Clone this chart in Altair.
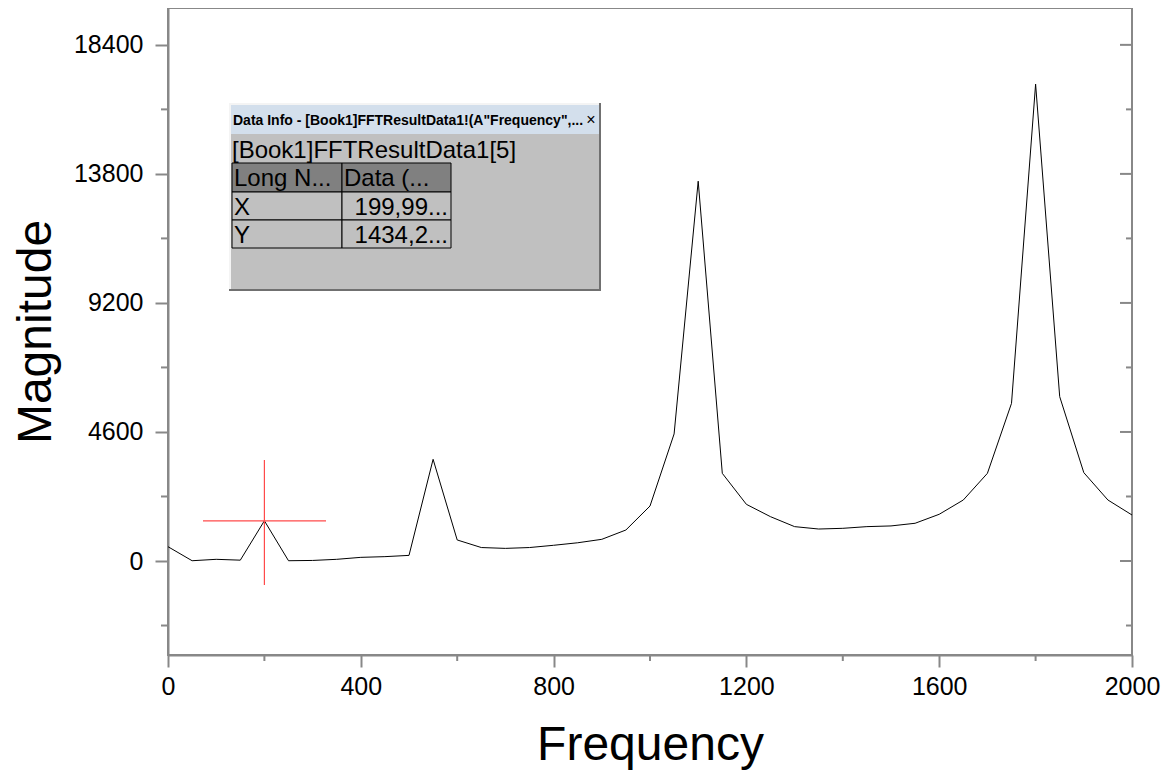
import altair as alt
import pandas as pd

# ---------------- data ----------------
freq = [0, 50, 100, 150, 200, 250, 300, 350, 400, 450, 500, 550, 600, 650, 700,
        750, 800, 850, 900, 950, 1000, 1050, 1100, 1150, 1200, 1250, 1300, 1350,
        1400, 1450, 1500, 1550, 1600, 1650, 1700, 1750, 1800, 1850, 1900, 1950, 2000]
magnitude = [510, 10, 60, 30, 1434, 10, 20, 60, 130, 155, 200, 3625, 750, 480, 450,
             480, 560, 650, 773, 1105, 1960, 4530, 13540, 3125, 2020, 1580, 1225, 1140,
             1165, 1225, 1250, 1345, 1665, 2175, 3125, 5620, 17000, 5860, 3150, 2175, 1640]

y_major = [0, 4600, 9200, 13800, 18400]
y_minor = [-2300, 2300, 6900, 11500, 16100]
x_major = [0, 400, 800, 1200, 1600, 2000]
x_minor = [200, 600, 1000, 1400, 1800]

cursor_x = [200]
cursor_y = [1434]

info_title = 'Data Info - [Book1]FFTResultData1!(A"Frequency",...'
info_close = "×"
info_sub = "[Book1]FFTResultData1[5]"
table_header = ["Long N...", "Data (..."]
table_rows = [["X", "199,99..."], ["Y", "1434,2..."]]

# ---------------- layout ----------------
W, H = 964, 647
OX, OY = 168, 8          # plot origin on the page
AX = "#888888"
FONT = "Liberation Sans"

XS = alt.Scale(domain=[0, 2000], nice=False, zero=False)
YS = alt.Scale(domain=[-3351, 19714], nice=False, zero=False)
XAX = alt.Axis(values=x_major, format="d", title="Frequency", labelFlush=False,
               tickSize=12, labelPadding=7, titlePadding=22)
YAX = alt.Axis(values=y_major, format="d", title="Magnitude",
               tickSize=13, labelPadding=12, titlePadding=13)


def X(field="Frequency"):
    return alt.X(f"{field}:Q", scale=XS, axis=XAX, title="Frequency")


def Y(field="Magnitude"):
    return alt.Y(f"{field}:Q", scale=YS, axis=YAX, title="Magnitude")


df = pd.DataFrame({"Frequency": freq, "Magnitude": magnitude})

line = alt.Chart(df).mark_line(color="black", strokeWidth=1).encode(x=X(), y=Y())

ymin = pd.DataFrame({"Magnitude": y_minor})
ymaj = pd.DataFrame({"Magnitude": y_major})
xmin = pd.DataFrame({"Frequency": x_minor})

left_minor = alt.Chart(ymin).mark_rule(color=AX, strokeWidth=2).encode(
    y=Y(), x=alt.value(-7), x2=alt.value(0))
right_major = alt.Chart(ymaj).mark_rule(color=AX, strokeWidth=2).encode(
    y=Y(), x=alt.value(W - 12), x2=alt.value(W))
right_minor = alt.Chart(ymin).mark_rule(color=AX, strokeWidth=2).encode(
    y=Y(), x=alt.value(W - 6), x2=alt.value(W))
bottom_minor = alt.Chart(xmin).mark_rule(color=AX, strokeWidth=2).encode(
    x=X(), y=alt.value(H), y2=alt.value(H + 6))

cur = pd.DataFrame({"Frequency": cursor_x, "Magnitude": cursor_y})
RED = "#ff4a4a"
cross_v = alt.Chart(cur).mark_rule(color=RED, strokeWidth=1.2).encode(
    x=X(), y=alt.value(460 - OY), y2=alt.value(585 - OY))
cross_h = alt.Chart(cur).mark_rule(color=RED, strokeWidth=1.2).encode(
    y=Y(), x=alt.value(203 - OX), x2=alt.value(326 - OX))

one = pd.DataFrame({"d": [0]})


def box(x0, y0, x1, y1, fill, stroke=None, sw=1):
    kw = dict(fill=fill)
    if stroke is not None:
        kw.update(stroke=stroke, strokeWidth=sw)
    return alt.Chart(one).mark_rect(**kw).encode(
        x=alt.value(x0 - OX), x2=alt.value(x1 - OX),
        y=alt.value(y0 - OY), y2=alt.value(y1 - OY))


def label(txt, x, y, size, align="left", weight="normal", color="black"):
    return alt.Chart(one).mark_text(
        text=txt, align=align, baseline="alphabetic", fontSize=size,
        font=FONT, fontWeight=weight, color=color).encode(
        x=alt.value(x - OX), y=alt.value(y - OY))


panel = [
    box(229, 103, 601, 291, "#707070"),
    box(229, 103, 599, 289, "#f4f4f4"),
    box(231, 105, 599, 289, "#c0c0c0"),
    box(231, 105, 599, 134, "#d3dfec"),
    label(info_title, 233, 125, 14, weight="bold"),
    label(info_close, 591, 125, 16, align="center"),
    label(info_sub, 232, 158, 24),
    box(232, 163, 342, 192, "#808080", "black"),
    box(342, 163, 451, 192, "#808080", "black"),
    box(232, 192, 342, 220, "#c0c0c0", "black"),
    box(342, 192, 451, 220, "#c0c0c0", "black"),
    box(232, 220, 342, 248, "#c0c0c0", "black"),
    box(342, 220, 451, 248, "#c0c0c0", "black"),
    label(table_header[0], 234, 186, 24),
    label(table_header[1], 344, 186, 24),
    label(table_rows[0][0], 234, 215, 24),
    label(table_rows[0][1], 448, 215, 24, align="right"),
    label(table_rows[1][0], 234, 243, 24),
    label(table_rows[1][1], 448, 243, 24, align="right"),
]

chart = alt.layer(
    line, left_minor, right_major, right_minor, bottom_minor,
    cross_v, cross_h, *panel
).properties(
    width=W, height=H, padding={"left": 4, "top": 0, "right": 5, "bottom": 5}
).configure_view(
    stroke=AX, strokeWidth=2
).configure_axis(
    grid=False, domainColor=AX, domainWidth=2, tickColor=AX, tickWidth=2,
    labelColor="black", labelFont=FONT, labelFontSize=25,
    titleColor="black", titleFont=FONT, titleFontSize=48, titleFontWeight="normal",
)

chart.save("out.html", embed_options={"renderer": "svg", "actions": False})
